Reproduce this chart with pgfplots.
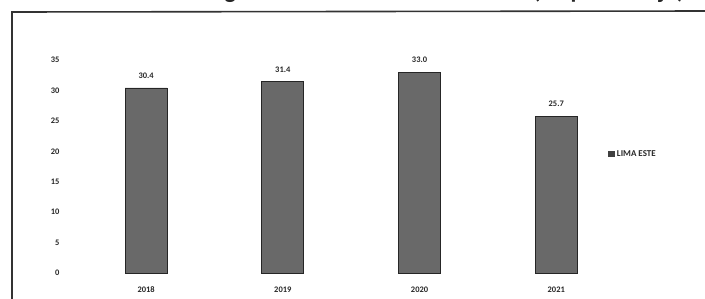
\documentclass[border=0pt]{standalone}
\usepackage{pgfplots}
\pgfplotsset{compat=1.18}
\usepackage{fontspec}
\setmainfont{Carlito}
\definecolor{barfill}{RGB}{105,105,105}
\definecolor{txt}{RGB}{40,40,40}
\begin{document}
\begin{tikzpicture}[x=1bp,y=1bp]
\useasboundingbox (0,0) rectangle (705,298);
\clip (0,0) rectangle (705,298);
\fill[white] (0,0) rectangle (705,298);
% title (cut at top)
\node[anchor=base west, inner sep=0, font=\fontsize{24}{28}\selectfont\bfseries, text=black!85] at (-4,299) {Población víctima de algún hecho delictivo 2018-2021 (en porcentaje)};
% frame
\draw[black!80, line width=1.6bp] (12,-5) -- (12,286) -- (710,287);
\begin{axis}[
  at={(75bp,25bp)}, anchor=south west,
  scale only axis, width=525bp, height=213bp,
  xmin=-0.52, xmax=3.32, ymin=0, ymax=35,
  xtick={0,1,2,3}, xticklabels={2018,2019,2020,2021},
  ytick={0,5,...,35},
  axis line style={draw=none}, major tick style={draw=none},
  ybar, bar width=42bp,
  ticklabel style={font=\fontsize{8.5}{10}\selectfont\bfseries, text=txt},
  /pgf/number format/assume math mode=true,
  yticklabel style={xshift=-12bp},
  xticklabel style={yshift=-6bp},
  nodes near coords,
  nodes near coords style={font=\fontsize{8.5}{10}\selectfont\bfseries, text=txt, yshift=6bp,
    /pgf/number format/fixed, /pgf/number format/fixed zerofill, /pgf/number format/precision=1},
  clip=false,
  legend style={at={(1.015,0.559)}, anchor=west, draw=none, fill=none,
    font=\fontsize{9}{11}\selectfont\bfseries, text=txt, inner sep=0pt},
  legend image code/.code={\fill[black!75] (0bp,-2.5bp) rectangle (6bp,2.5bp);},
]
\addplot[fill=barfill, draw=black!85, line width=0.9bp] coordinates {(0,30.4) (1,31.4) (2,33.0) (3,25.7)};
\addlegendentry{LIMA ESTE}
\end{axis}
\end{tikzpicture}
\end{document}
